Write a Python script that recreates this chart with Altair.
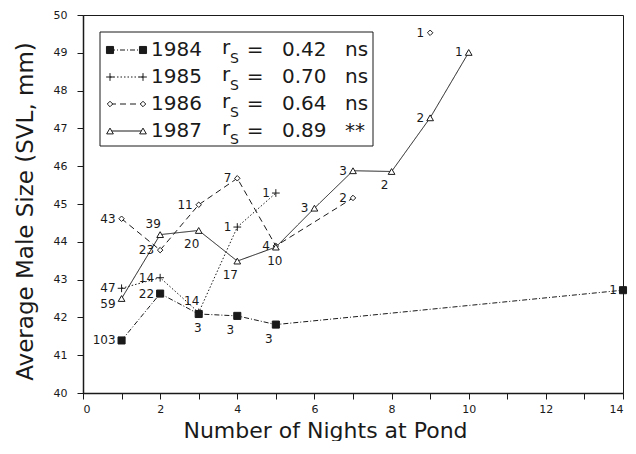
import altair as alt
import pandas as pd

# ---------------- data ----------------
years = ["1984", "1985", "1986", "1987"]

nights_1984 = [1, 2, 3, 4, 5, 14]
size_1984 = [41.39, 42.63, 42.09, 42.04, 41.81, 42.72]
n_1984 = [103, 22, 3, 3, 3, 1]
place_1984 = ["left", "left", "below", "below-left", "below-left", "left"]
seg_1984 = [0, 0, 0, 0, 0, 0]

nights_1985 = [1, 2, 3, 4, 5]
size_1985 = [42.77, 43.05, 42.13, 44.39, 45.29]
n_1985 = [47, 14, 14, 1, 1]
place_1985 = ["left", "left", "above-left", "left", "left"]
seg_1985 = [0, 0, 0, 0, 0]

nights_1986 = [1, 2, 3, 4, 5, 7, 9]
size_1986 = [44.61, 43.78, 44.98, 45.68, 43.89, 45.16, 49.53]
n_1986 = [43, 23, 11, 7, 4, 2, 1]
place_1986 = ["left", "left", "left", "left", "left", "left", "left"]
seg_1986 = [0, 0, 0, 0, 0, 0, 1]

nights_1987 = [1, 2, 3, 4, 5, 6, 7, 8, 9, 10]
size_1987 = [42.50, 44.19, 44.30, 43.49, 43.86, 44.89, 45.88, 45.86, 47.28, 49.01]
n_1987 = [59, 39, 20, 17, 10, 3, 3, 2, 2, 1]
place_1987 = ["left-low", "above-left", "below-left", "below-left", "below",
              "left", "left", "below-left", "left", "left"]
seg_1987 = [0] * 10

rs_values = ["0.42", "0.70", "0.64", "0.89"]
rs_signif = ["ns", "ns", "ns", "**"]

x_ticks = list(range(0, 15))
y_ticks = list(range(40, 51))

# ---------------- build table ----------------
rows = []
for yr, xs, ys, ns, pl, sg in [
    ("1984", nights_1984, size_1984, n_1984, place_1984, seg_1984),
    ("1985", nights_1985, size_1985, n_1985, place_1985, seg_1985),
    ("1986", nights_1986, size_1986, n_1986, place_1986, seg_1986),
    ("1987", nights_1987, size_1987, n_1987, place_1987, seg_1987),
]:
    for a, b, c, d, e in zip(xs, ys, ns, pl, sg):
        rows.append({"year": yr, "nights": a, "size": b, "n": str(c),
                     "place": d, "seg": f"{yr}-{e}"})
df = pd.DataFrame(rows)

FONT = "DejaVu Sans"
INK = "#1a1a1a"

styles = {
    "1984": dict(dash=[5, 2, 1, 2], shape="square", fill=INK, size=50),
    "1985": dict(dash=[1.5, 2], shape="M-1,0L1,0M0,-1L0,1", fill="transparent", size=60),
    "1986": dict(dash=[6, 4], shape="diamond", fill="white", size=30),
    "1987": dict(dash=[1, 0], shape="triangle-up", fill="white", size=45),
}

x_enc = alt.X(
    "nights:Q",
    scale=alt.Scale(domain=[0, 14], nice=False, zero=False),
    axis=alt.Axis(
        values=x_ticks,
        labelExpr="datum.value % 2 == 0 ? datum.label : ''",
        tickSize=6, labelPadding=4, labelFontSize=11, labelFont=FONT,
        labelColor=INK, grid=False, domainColor=INK, tickColor=INK,
        domainWidth=1.5,
        title="Number of Nights at Pond", titleFont=FONT, titleFontSize=22,
        titleFontWeight="normal", titleColor=INK,
        titleX=242, titleY=44, titleAlign="center", titleBaseline="alphabetic",
    ),
)
y_enc = alt.Y(
    "size:Q",
    scale=alt.Scale(domain=[40, 50], nice=False, zero=False),
    axis=alt.Axis(
        values=y_ticks, tickSize=6, labelPadding=10, labelFontSize=11,
        labelFont=FONT, labelColor=INK, grid=False, domainColor=INK,
        tickColor=INK, domainWidth=1.5,
        title="Average Male Size (SVL, mm)", titleFont=FONT, titleFontSize=23,
        titleFontWeight="normal", titleColor=INK,
        titleX=-51, titleY=196, titleAngle=-90, titleAlign="center",
        titleBaseline="alphabetic",
    ),
)

base = alt.Chart(df)
layers = []

# lines and markers
for yr in years:
    st = styles[yr]
    sub = base.transform_filter(alt.datum.year == yr)
    layers.append(
        sub.mark_line(stroke=INK, strokeWidth=1, strokeDash=st["dash"], clip=False)
        .encode(x=x_enc, y=y_enc, detail="seg:N", order="nights:Q")
    )
for yr in years:
    st = styles[yr]
    sub = base.transform_filter(alt.datum.year == yr)
    layers.append(
        sub.mark_point(shape=st["shape"], fill=st["fill"], stroke=INK,
                       strokeWidth=1, size=st["size"], opacity=1,
                       filled=False, clip=False)
        .encode(x=x_enc, y=y_enc)
    )

# sample-size labels
placements = {
    "left": dict(align="right", dx=-6, dy=0),
    "left-low": dict(align="right", dx=-6, dy=5),
    "above-left": dict(align="center", dx=-7, dy=-11),
    "below-left": dict(align="center", dx=-7, dy=14),
    "below": dict(align="center", dx=-1, dy=14),
}
for pl, o in placements.items():
    layers.append(
        base.transform_filter(alt.datum.place == pl)
        .mark_text(font=FONT, fontSize=12, color=INK, baseline="middle",
                   align=o["align"], dx=o["dx"], dy=o["dy"])
        .encode(x=x_enc, y=y_enc, text="n:N")
    )

# ---------------- legend box (drawn manually) ----------------
one = pd.DataFrame({"k": [0]})
layers.append(
    alt.Chart(one).mark_rect(fill="white", stroke=INK, strokeWidth=1)
    .encode(x=alt.value(17), x2=alt.value(290), y=alt.value(17), y2=alt.value(131))
)
row_y0, row_step = 35, 27
for i, yr in enumerate(years):
    st = styles[yr]
    yy = row_y0 + i * row_step
    layers.append(
        alt.Chart(one).mark_rule(stroke=INK, strokeWidth=1, strokeDash=st["dash"])
        .encode(x=alt.value(27), x2=alt.value(60), y=alt.value(yy))
    )
    for xx in (27, 60):
        layers.append(
            alt.Chart(one).mark_point(shape=st["shape"], fill=st["fill"], stroke=INK,
                                      strokeWidth=1, size=st["size"], opacity=1,
                                      filled=False)
            .encode(x=alt.value(xx), y=alt.value(yy))
        )
    for txt, xx, dy, fs, al in [
        (yr, 68, 0, 20, "left"),
        ("r", 139, -2, 20, "left"),
        ("S", 147, 9, 14, "left"),
        ("=", 172, 0, 20, "center"),
        (rs_values[i], 199, 0, 20, "left"),
        (rs_signif[i], 262, 0, 20, "left"),
    ]:
        layers.append(
            alt.Chart(pd.DataFrame({"t": [txt]}))
            .mark_text(font=FONT, fontSize=fs, color=INK, align=al,
                       baseline="middle", dy=dy)
            .encode(x=alt.value(xx), y=alt.value(yy), text="t:N")
        )

chart = (
    alt.layer(*layers)
    .properties(
        width=540, height=378,
        autosize=alt.AutoSizeParams(type="none"),
        padding={"left": 75, "top": 7, "right": 5, "bottom": 48},
        background="white",
    )
    .configure_view(stroke=INK, strokeWidth=1)
)

chart.save("out.html", embed_options={"renderer": "svg", "actions": False})
